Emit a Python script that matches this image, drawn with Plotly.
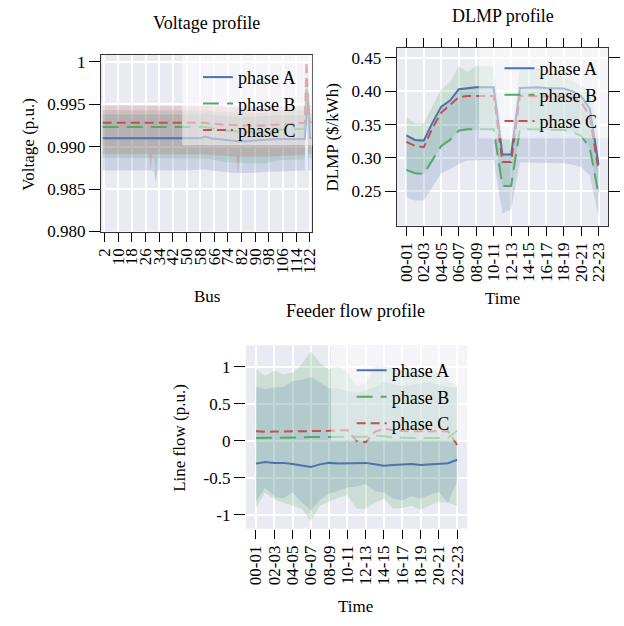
import plotly.graph_objects as go

W, H = 624, 626

# ---------------- data ----------------
BUS = [1, 20, 28, 29, 30, 31, 32, 33, 50, 58, 61, 64, 72, 79, 80, 81, 88, 95, 104, 112, 118, 119, 120, 121, 122, 123]
BUS_TICKS = [2, 10, 18, 26, 34, 42, 50, 58, 66, 74, 82, 90, 98, 106, 114, 122]

V_A = [0.9910, 0.9910, 0.9910, 0.9910, 0.9910, 0.9910, 0.9910, 0.9910, 0.9910, 0.9910, 0.9912, 0.9910, 0.9908,
       0.9906, 0.9906, 0.9906, 0.9907, 0.9908, 0.9909, 0.9909, 0.9909, 0.9909, 0.9935, 0.9956, 0.9910, 0.9910]
V_B = [0.9923, 0.9923, 0.9923, 0.9923, 0.9923, 0.9923, 0.9923, 0.9923, 0.9923, 0.9923, 0.9923, 0.9922, 0.9919,
       0.9918, 0.9918, 0.9918, 0.9917, 0.9916, 0.9920, 0.9921, 0.9921, 0.9921, 0.9968, 0.9945, 0.9928, 0.9928]
V_C = [0.9928, 0.9928, 0.9928, 0.9928, 0.9928, 0.9928, 0.9928, 0.9928, 0.9928, 0.9928, 0.9928, 0.9927, 0.9926,
       0.9925, 0.9925, 0.9925, 0.9925, 0.9925, 0.9926, 0.9927, 0.9927, 0.9928, 1.0000, 0.9950, 0.9929, 0.9929]
VA_LO = [0.9872, 0.9872, 0.9872, 0.9872, 0.9872, 0.9870, 0.9857, 0.9872, 0.9872, 0.9873, 0.9873, 0.9872, 0.9870,
         0.9869, 0.9869, 0.9869, 0.9869, 0.9870, 0.9871, 0.9872, 0.9872, 0.9872, 0.9952, 0.9872, 0.9872, 0.9872]
VA_HI = [0.9938, 0.9938, 0.9938, 0.9938, 0.9938, 0.9938, 0.9938, 0.9938, 0.9938, 0.9938, 0.9940, 0.9938, 0.9936,
         0.9935, 0.9935, 0.9935, 0.9935, 0.9936, 0.9937, 0.9937, 0.9937, 0.9937, 0.9960, 0.9965, 0.9938, 0.9938]
VB_LO = [0.98865, 0.98865, 0.98865, 0.98865, 0.98865, 0.9885, 0.9862, 0.98865, 0.98865, 0.98865, 0.9886, 0.9885, 0.9882,
         0.9881, 0.9881, 0.9881, 0.9880, 0.9880, 0.9884, 0.9885, 0.9885, 0.9885, 0.9960, 0.9886, 0.9887, 0.9887]
VB_HI = [0.9943, 0.9943, 0.9943, 0.9943, 0.9943, 0.9943, 0.9943, 0.9943, 0.9943, 0.9943, 0.9943, 0.9942, 0.9941,
         0.9940, 0.9940, 0.9940, 0.9940, 0.9940, 0.9942, 0.9943, 0.9943, 0.9943, 0.9985, 0.9960, 0.9944, 0.9944]
VC_LO = [0.9891, 0.9891, 0.9891, 0.9870, 0.9891, 0.9891, 0.9891, 0.9891, 0.9891, 0.9891, 0.9891, 0.9890, 0.9889,
         0.9888, 0.98677, 0.9888, 0.9888, 0.9888, 0.9889, 0.9890, 0.9890, 0.9890, 0.9990, 0.9891, 0.9891, 0.9891]
VC_HI = [0.99485, 0.99485, 0.99485, 0.99485, 0.99485, 0.99485, 0.99485, 0.99485, 0.99485, 0.99485, 0.99485, 0.9948, 0.9947,
         0.9946, 0.9946, 0.9946, 0.9946, 0.9946, 0.9947, 0.9948, 0.9948, 0.9948, 1.0000, 0.9955, 0.9949, 0.9949]

TIME = ["00-01", "01-02", "02-03", "03-04", "04-05", "05-06", "06-07", "07-08", "08-09", "09-10", "10-11", "11-12",
        "12-13", "13-14", "14-15", "15-16", "16-17", "17-18", "18-19", "19-20", "20-21", "21-22", "22-23"]
TIME_TICKS = ["00-01", "02-03", "04-05", "06-07", "08-09", "10-11", "12-13", "14-15", "16-17", "18-19", "20-21", "22-23"]

D_A = [0.334, 0.327, 0.326, 0.353, 0.377, 0.386, 0.403, 0.405, 0.406, 0.406, 0.406, 0.305,
       0.305, 0.405, 0.406, 0.406, 0.405, 0.405, 0.404, 0.400, 0.393, 0.374, 0.290]
D_B = [0.282, 0.277, 0.276, 0.298, 0.318, 0.327, 0.341, 0.343, 0.343, 0.343, 0.343, 0.258,
       0.258, 0.343, 0.343, 0.343, 0.343, 0.343, 0.342, 0.339, 0.333, 0.315, 0.245]
D_C = [0.324, 0.318, 0.316, 0.345, 0.368, 0.380, 0.391, 0.393, 0.393, 0.393, 0.393, 0.294,
       0.294, 0.393, 0.393, 0.393, 0.393, 0.393, 0.392, 0.390, 0.384, 0.362, 0.281]
DA_LO = [0.241, 0.236, 0.236, 0.257, 0.277, 0.283, 0.291, 0.296, 0.297, 0.297, 0.297, 0.217,
         0.223, 0.293, 0.293, 0.293, 0.293, 0.293, 0.292, 0.290, 0.286, 0.274, 0.212]
DA_HI = [0.335, 0.328, 0.327, 0.354, 0.378, 0.387, 0.404, 0.406, 0.407, 0.407, 0.407, 0.306,
         0.306, 0.406, 0.407, 0.407, 0.406, 0.406, 0.405, 0.401, 0.394, 0.375, 0.291]
DB_LO = [0.281, 0.276, 0.275, 0.297, 0.317, 0.326, 0.340, 0.342, 0.342, 0.342, 0.342, 0.257,
         0.257, 0.342, 0.342, 0.342, 0.342, 0.342, 0.341, 0.338, 0.332, 0.314, 0.244]
DB_HI = [0.361, 0.352, 0.352, 0.378, 0.403, 0.413, 0.438, 0.429, 0.438, 0.438, 0.437, 0.328,
         0.327, 0.436, 0.436, 0.435, 0.432, 0.427, 0.422, 0.416, 0.409, 0.402, 0.333]

F_A = [-0.310, -0.288, -0.300, -0.300, -0.315, -0.330, -0.355, -0.320, -0.300, -0.310, -0.310, -0.300,
       -0.300, -0.320, -0.340, -0.330, -0.320, -0.315, -0.330, -0.325, -0.315, -0.305, -0.257]
F_B = [0.035, 0.035, 0.035, 0.037, 0.040, 0.045, 0.050, 0.050, 0.050, 0.052, 0.053, 0.058,
       0.055, 0.066, 0.060, 0.040, 0.035, 0.035, 0.035, 0.035, 0.035, 0.035, 0.137]
F_C = [0.129, 0.120, 0.124, 0.124, 0.124, 0.124, 0.127, 0.129, 0.133, 0.142, 0.142, 0.000,
       -0.020, 0.120, 0.163, 0.142, 0.130, 0.129, 0.129, 0.129, 0.129, 0.129, -0.058]
FA_LO = [-0.825, -0.634, -0.754, -0.780, -0.700, -0.830, -0.945, -0.800, -0.718, -0.680, -0.634, -0.620,
         -0.590, -0.680, -0.700, -0.780, -0.810, -0.750, -0.780, -0.730, -0.692, -0.834, -0.545]
FA_HI = [0.730, 0.696, 0.718, 0.725, 0.807, 0.825, 0.860, 0.790, 0.710, 0.705, 0.674, 0.640,
         0.680, 0.730, 0.798, 0.770, 0.740, 0.755, 0.772, 0.798, 0.754, 0.727, 0.718]
FB_LO = [-0.913, -0.700, -0.790, -0.840, -0.878, -0.920, -1.090, -0.878, -0.825, -0.770, -0.736, -0.920,
         -0.920, -0.840, -0.790, -0.920, -0.910, -0.880, -0.930, -0.880, -0.825, -0.840, -0.878]
FB_HI = [0.976, 0.874, 0.949, 0.896, 0.918, 1.030, 1.206, 1.050, 0.962, 1.015, 0.918, 0.750,
         0.772, 1.007, 1.007, 0.990, 0.950, 0.940, 0.930, 0.920, 0.920, 0.816, 0.740]

PHASES = ["phase A", "phase B", "phase C"]

# ---------------- style ----------------
COLORS = ["#4C72B0", "#55A868", "#C44E52"]
FILLS = ["rgba(76,114,176,0.2)", "rgba(85,168,104,0.2)", "rgba(196,78,82,0.2)"]
DASHES = ["solid", "16px,8px", "9px,5px"]
FONT = "Liberation Serif, Times New Roman, serif"
BG = "#EAEAF2"


def px_x(p):
    return p / W


def px_y(p):
    return 1 - p / H


fig = go.Figure()


def add_band(x, lo, hi, i, xa, ya):
    fig.add_trace(go.Scatter(x=x, y=lo, mode="lines", line=dict(width=0), hoverinfo="skip",
                             showlegend=False, xaxis=xa, yaxis=ya))
    fig.add_trace(go.Scatter(x=x, y=hi, mode="lines", line=dict(width=0), fill="tonexty",
                             fillcolor=FILLS[i], hoverinfo="skip", showlegend=False, xaxis=xa, yaxis=ya))


def add_line(x, y, i, xa, ya, leg):
    fig.add_trace(go.Scatter(x=x, y=y, mode="lines", name=PHASES[i],
                             line=dict(color=COLORS[i], width=2, dash=DASHES[i]),
                             xaxis=xa, yaxis=ya, legend=leg))


# voltage
for i, (lo, hi) in enumerate([(VA_LO, VA_HI), (VB_LO, VB_HI), (VC_LO, VC_HI)]):
    add_band(BUS, lo, hi, i, "x", "y")
for i, ys in enumerate([V_A, V_B, V_C]):
    add_line(BUS, ys, i, "x", "y", "legend")

# DLMP
for i, (lo, hi) in enumerate([(DA_LO, DA_HI), (DB_LO, DB_HI)]):
    add_band(TIME, lo, hi, i, "x2", "y2")
for i, ys in enumerate([D_A, D_B, D_C]):
    add_line(TIME, ys, i, "x2", "y2", "legend2")

# feeder
for i, (lo, hi) in enumerate([(FA_LO, FA_HI), (FB_LO, FB_HI)]):
    add_band(TIME, lo, hi, i, "x3", "y3")
for i, ys in enumerate([F_A, F_B, F_C]):
    add_line(TIME, ys, i, "x3", "y3", "legend3")

tickfont = dict(family=FONT, size=17, color="black")
common = dict(showgrid=True, gridcolor="white", gridwidth=1.5, zeroline=False, ticks="outside",
              tickwidth=1, tickcolor="black", tickfont=tickfont)
framed = dict(showline=True, linecolor="#333333", linewidth=1)
XT = dict(ticklen=9)
YT = dict(ticklen=11)

fig.update_layout(
    width=W, height=H, margin=dict(l=0, r=0, t=0, b=0),
    paper_bgcolor="white", plot_bgcolor=BG,
    font=dict(family=FONT, size=17, color="black"),
    xaxis=dict(domain=[px_x(97), px_x(313)], range=[0, 123.5], tickmode="array", tickvals=BUS_TICKS,
               ticktext=[str(b) for b in BUS_TICKS], tickangle=-90, anchor="y", mirror=True,
               **framed, **common, **XT),
    yaxis=dict(domain=[px_y(234), px_y(54)], range=[0.980, 1.0008], tickmode="array",
               tickvals=[0.980, 0.985, 0.990, 0.995, 1.0], ticktext=["0.980", "0.985", "0.990", "0.995", "1"],
               anchor="x", mirror=True, **framed, **common, **YT),
    xaxis2=dict(domain=[px_x(399), px_x(615)], range=[-1.1, 23.1], type="category", tickmode="array",
                tickvals=TIME_TICKS, ticktext=TIME_TICKS, tickangle=-90, anchor="y2", mirror="ticks",
                **framed, **common, **XT),
    yaxis2=dict(domain=[px_y(228), px_y(47)], range=[0.1985, 0.4647], tickmode="array",
                tickvals=[0.25, 0.30, 0.35, 0.40, 0.45], ticktext=["0.25", "0.30", "0.35", "0.40", "0.45"],
                anchor="x2", mirror="ticks", **framed, **common, **YT),
    xaxis3=dict(domain=[px_x(245), px_x(471)], range=[-1.1, 23.1], type="category", tickmode="array",
                tickvals=TIME_TICKS, ticktext=TIME_TICKS, tickangle=-90, anchor="y3", showline=False,
                **common, **XT),
    yaxis3=dict(domain=[px_y(537), px_y(350)], range=[-1.19, 1.29], tickmode="array",
                tickvals=[-1, -0.5, 0, 0.5, 1], ticktext=["-1", "-0.5", "0", "0.5", "1"],
                anchor="x3", showline=False, **common, **YT),
)

legfont = dict(family=FONT, size=18, color="black")
leg_common = dict(xanchor="left", yanchor="top", bgcolor="rgba(0,0,0,0)", borderwidth=0,
                  font=legfont, traceorder="normal")
fig.update_layout(
    legend=dict(x=px_x(196), y=px_y(58), **leg_common),
    legend2=dict(x=px_x(504), y=px_y(49), **leg_common),
    legend3=dict(x=px_x(353), y=px_y(357), **leg_common),
)

# translucent legend boxes
for (x0, y0, x1, y1) in [(180, 54, 313, 146), (483, 47, 615, 139), (332, 350, 471, 447)]:
    fig.add_shape(type="rect", xref="paper", yref="paper", x0=px_x(x0), x1=px_x(x1), y0=px_y(y1), y1=px_y(y0),
                  fillcolor="rgba(255,255,255,0.5)", line=dict(width=0), layer="above")

annots = [
    ("Voltage profile", 205, 21, 0, 18), ("DLMP profile", 508, 14, 0, 18), ("Feeder flow profile", 357, 315, 0, 18),
    ("Bus", 205, 300, 0, 17), ("Time", 507, 302, 0, 17), ("Time", 357, 616, 0, 17),
    ("Voltage (p.u.)", 23, 145, -90, 17), ("DLMP ($/kWh)", 333, 138, -90, 17),
    ("Line flow (p.u.)", 177, 444, -90, 17),
]
for text, x, y, ang, sz in annots:
    fig.add_annotation(text=text, x=px_x(x), y=px_y(y), xref="paper", yref="paper", showarrow=False,
                       xanchor="center", yanchor="middle", textangle=ang, font=dict(family=FONT, size=sz))

fig.write_html("out.html")
